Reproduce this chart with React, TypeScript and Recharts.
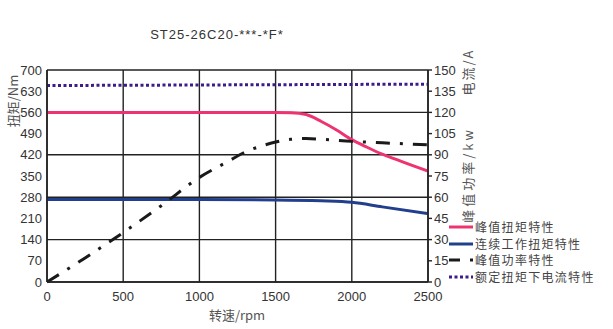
import {
  ComposedChart,
  Line,
  XAxis,
  YAxis,
  CartesianGrid,
} from 'recharts'

// 转速 (rpm) 及各特性曲线
const peakTorqueRpm = [0, 500, 1000, 1500, 1600, 1700, 1800, 1900, 2000, 2100, 2200, 2300, 2400, 2500]
const peakTorque = [560, 560, 560, 560, 559, 553, 530, 502, 470, 445, 422, 403, 384, 366]

const contTorqueRpm = [0, 500, 1000, 1500, 1800, 2000, 2200, 2500]
const contTorque = [272, 272, 272, 271, 268, 263, 248, 226]

const powerRpm = [0, 250, 500, 750, 1000, 1200, 1300, 1400, 1500, 1600, 1700, 1800, 2000, 2200, 2500]
const peakPower = [0, 17, 35, 54, 74, 86, 92, 96, 99, 101, 101.5, 101, 99.5, 98.5, 97]

const currentRpm = [0, 2500]
const ratedCurrent = [139, 140]

const xTicks = [0, 500, 1000, 1500, 2000, 2500]
const torqueTicks = [0, 70, 140, 210, 280, 350, 420, 490, 560, 630, 700]
const rightTicks = [0, 15, 30, 45, 60, 75, 90, 105, 120, 135, 150]

const seriesNames = ['峰值扭矩特性', '连续工作扭矩特性', '峰值功率特性', '额定扭矩下电流特性']

const toRows = (xs: number[], ys: number[]) => xs.map((x, i) => ({ rpm: x, v: ys[i] }))

const PINK = '#ee3470'
const NAVY = '#213f8c'
const BLACK = '#1a1a1a'
const PURPLE = '#3a1c8c'

const font = '"Liberation Sans", Arial, sans-serif'
const cjk = '"Noto Sans CJK SC", "Liberation Sans", sans-serif'
const tickStyle = { fontSize: 13, fill: '#333', fontFamily: font }

const legendStyles = [
  { stroke: PINK, dash: undefined },
  { stroke: NAVY, dash: undefined },
  { stroke: BLACK, dash: '11 10 3 10' },
  { stroke: PURPLE, dash: '3 2.5' },
]

export default function App() {
  return (
    <div style={{ position: 'absolute', left: 0, top: 0, width: 613, height: 329, background: '#fff' }}>
      <div
        style={{
          position: 'absolute', left: 117, top: 27, width: 200, textAlign: 'center',
          fontFamily: font, fontSize: 13, letterSpacing: 1, color: '#333',
        }}
      >
        ST25-26C20-***-*F*
      </div>

      <ComposedChart width={613} height={329} margin={{ top: 70, right: 145, bottom: 17, left: 0 }}>
        <CartesianGrid stroke="#222" strokeWidth={1.4} horizontalValues={torqueTicks} verticalValues={xTicks} yAxisId="torque" />
        <XAxis
          type="number"
          dataKey="rpm"
          domain={[0, 2500]}
          ticks={xTicks}
          allowDataOverflow
          height={30}
          tickSize={0}
          tickMargin={10}
          tick={tickStyle}
          axisLine={{ stroke: '#222', strokeWidth: 1.6 }}
          tickLine={false}
        />
        <YAxis
          yAxisId="torque"
          type="number"
          domain={[0, 700]}
          ticks={torqueTicks}
          width={47}
          tickSize={0}
          tickMargin={5}
          tick={tickStyle}
          axisLine={{ stroke: '#222', strokeWidth: 1.6 }}
          tickLine={false}
        />
        <YAxis
          yAxisId="right"
          orientation="right"
          type="number"
          domain={[0, 150]}
          ticks={rightTicks}
          width={40}
          tickSize={4}
          tickMargin={2}
          tick={tickStyle}
          axisLine={{ stroke: '#222', strokeWidth: 1.6 }}
          tickLine={{ stroke: '#222', strokeWidth: 1.4 }}
        />
        <Line
          yAxisId="torque"
          data={toRows(peakTorqueRpm, peakTorque)}
          dataKey="v"
          type="monotone"
          stroke={PINK}
          strokeWidth={3}
          dot={false}
          isAnimationActive={false}
        />
        <Line
          yAxisId="torque"
          data={toRows(contTorqueRpm, contTorque)}
          dataKey="v"
          type="monotone"
          stroke={NAVY}
          strokeWidth={3}
          dot={false}
          isAnimationActive={false}
        />
        <Line
          yAxisId="right"
          data={toRows(powerRpm, peakPower)}
          dataKey="v"
          type="monotone"
          stroke={BLACK}
          strokeWidth={3}
          strokeDasharray="14 10 3 10"
          dot={false}
          isAnimationActive={false}
        />
        <Line
          yAxisId="right"
          data={toRows(currentRpm, ratedCurrent)}
          dataKey="v"
          type="linear"
          stroke={PURPLE}
          strokeWidth={3}
          strokeDasharray="3 2.5"
          dot={false}
          isAnimationActive={false}
        />
      </ComposedChart>

      {/* 坐标轴标题 */}
      <div style={{ position: 'absolute', left: 12, top: 101, transform: 'translate(-50%,-50%) rotate(-90deg)', whiteSpace: 'nowrap', fontFamily: cjk, fontSize: 13, color: '#555' }}>
        扭矩/Nm
      </div>
      <div style={{ position: 'absolute', left: 467, top: 72, transform: 'translate(-50%,-50%) rotate(-90deg)', whiteSpace: 'nowrap', fontFamily: cjk, fontSize: 13, letterSpacing: 2, color: '#555' }}>
        电流/A
      </div>
      <div style={{ position: 'absolute', left: 467, top: 175, transform: 'translate(-50%,-50%) rotate(-90deg)', whiteSpace: 'nowrap', fontFamily: cjk, fontSize: 13, letterSpacing: 3, color: '#555' }}>
        峰值功率/kw
      </div>
      <div style={{ position: 'absolute', left: 237, top: 314, transform: 'translate(-50%,-50%)', whiteSpace: 'nowrap', fontFamily: cjk, fontSize: 13, color: '#555' }}>
        转速/rpm
      </div>

      {/* 图例 */}
      <div style={{ position: 'absolute', left: 449, top: 219 }}>
        {seriesNames.map((name, i) => (
          <div key={name} style={{ display: 'flex', alignItems: 'center', height: 16.6 }}>
            <svg width={26} height={10}>
              <line
                x1={0}
                y1={5}
                x2={24}
                y2={5}
                stroke={legendStyles[i].stroke}
                strokeWidth={3}
                strokeDasharray={legendStyles[i].dash}
              />
            </svg>
            <span style={{ fontFamily: cjk, fontSize: 12, letterSpacing: 1.3, color: '#444', lineHeight: '16px' }}>{name}</span>
          </div>
        ))}
      </div>
    </div>
  )
}
